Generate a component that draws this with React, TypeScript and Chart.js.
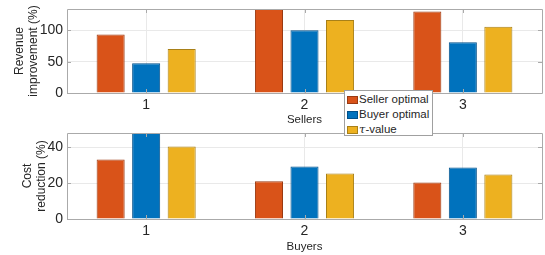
import React, { useEffect, useRef } from "react";
import { Chart, registerables } from "chart.js";

Chart.register(...registerables);

const sellerCategories = ["1", "2", "3"];
const buyerCategories = ["1", "2", "3"];
const seriesNames = ["Seller optimal", "Buyer optimal", "τ-value"];
const seriesColors = ["#D95319", "#0072BD", "#EDB120"];
const seriesEdges = ["#9a3a12", "#00508a", "#a88018"];

const revenueSellerOpt = [93.5, 136, 130];
const revenueBuyerOpt = [47.5, 100, 81];
const revenueTau = [70, 116.5, 105.5];

const costSellerOpt = [33.2, 21.1, 20.4];
const costBuyerOpt = [49, 29.3, 28.7];
const costTau = [40.4, 25.4, 24.8];

const revenueMax = 134;
const costMax = 48;
const revenueStep = 50;
const costStep = 20;

const FONT = "'Liberation Sans', Arial, Helvetica, sans-serif";
const GRID = "#e9e9e9";
const AXIS = "#aaaaaa";

const boxPlugin = {
  id: "matlabBox",
  afterDraw(chart: any) {
    const { ctx, chartArea: a, scales } = chart;
    ctx.save();
    ctx.strokeStyle = AXIS;
    ctx.lineWidth = 1;
    ctx.beginPath();
    ctx.rect(Math.round(a.left) + 0.5, Math.round(a.top) + 0.5, Math.round(a.right - a.left), Math.round(a.bottom - a.top));
    ctx.stroke();
    const tl = 4;
    const y = scales.y;
    const x = scales.x;
    ctx.beginPath();
    y.ticks.forEach((t: any, i: number) => {
      const py = Math.round(y.getPixelForTick(i)) + 0.5;
      ctx.moveTo(a.left, py);
      ctx.lineTo(a.left + tl, py);
      ctx.moveTo(a.right, py);
      ctx.lineTo(a.right - tl, py);
    });
    x.ticks.forEach((t: any, i: number) => {
      const px = Math.round(x.getPixelForTick(i)) + 0.5;
      ctx.moveTo(px, a.bottom);
      ctx.lineTo(px, a.bottom - tl);
      ctx.moveTo(px, a.top);
      ctx.lineTo(px, a.top + tl);
    });
    ctx.stroke();
    ctx.restore();
  },
};

function makeConfig(
  labels: string[],
  data: number[][],
  max: number,
  step: number,
  yTitle: string[],
  yTitlePad: number,
  xTitle: string,
  xTitlePad: number,
  xHeight: number,
  padTop: number
): any {
  return {
    type: "bar",
    data: {
      labels,
      datasets: data.map((d, i) => ({
        label: seriesNames[i],
        data: d,
        backgroundColor: seriesColors[i],
        borderColor: seriesEdges[i],
        borderWidth: 1,
        categoryPercentage: 0.673,
        barPercentage: 0.79,
      })),
    },
    options: {
      responsive: false,
      animation: false,
      devicePixelRatio: 1,
      layout: { padding: { top: padTop, right: 3, left: 0, bottom: 0 } },
      plugins: { legend: { display: false }, tooltip: { enabled: false } },
      scales: {
        x: {
          grid: { color: GRID, offset: false, drawTicks: false },
          border: { display: false },
          ticks: { color: "#262626", font: { family: FONT, size: 14 }, padding: 4 },
          title: {
            display: true,
            text: xTitle,
            color: "#262626",
            font: { family: FONT, size: 11.5 },
            padding: { top: 0, bottom: xTitlePad },
          },
          afterFit: (s: any) => {
            s.height = xHeight;
            s.paddingLeft = 0;
            s.paddingRight = 0;
          },
        },
        y: {
          min: 0,
          max,
          grid: { color: GRID, drawTicks: false },
          border: { display: false },
          ticks: {
            stepSize: step,
            includeBounds: false,
            color: "#262626",
            font: { family: FONT, size: 14 },
            padding: 4,
          },
          title: {
            display: true,
            text: yTitle,
            color: "#262626",
            font: { family: FONT, size: 12 },
            padding: { top: yTitlePad, bottom: 0 },
          },
          afterFit: (s: any) => {
            s.width = 67;
            s.paddingTop = 0;
            s.paddingBottom = 0;
          },
        },
      },
    },
    plugins: [boxPlugin],
  };
}

export default function App() {
  const topRef = useRef<HTMLCanvasElement>(null);
  const botRef = useRef<HTMLCanvasElement>(null);

  useEffect(() => {
    const c1 = new Chart(
      topRef.current as HTMLCanvasElement,
      makeConfig(
        sellerCategories,
        [revenueSellerOpt, revenueBuyerOpt, revenueTau],
        revenueMax,
        revenueStep,
        ["Revenue", "improvement (%)"],
        12,
        "Sellers",
        3,
        37,
        9
      )
    );
    const c2 = new Chart(
      botRef.current as HTMLCanvasElement,
      makeConfig(
        buyerCategories,
        [costSellerOpt, costBuyerOpt, costTau],
        costMax,
        costStep,
        ["Cost", "reduction (%)"],
        20,
        "Buyers",
        1,
        36,
        3
      )
    );
    return () => {
      c1.destroy();
      c2.destroy();
    };
  }, []);

  const row = (i: number) => (
    <div key={i} style={{ display: "flex", alignItems: "center", height: 15 }}>
      <span
        style={{
          display: "inline-block",
          width: 9,
          height: 6,
          background: seriesColors[i],
          border: `1px solid ${seriesEdges[i]}`,
          marginRight: 1,
        }}
      />
      <span>
        {i === 2 ? (
          <>
            <i style={{ fontFamily: "'DejaVu Serif', serif" }}>τ</i>-value
          </>
        ) : (
          seriesNames[i]
        )}
      </span>
    </div>
  );

  return (
    <div style={{ position: "absolute", left: 0, top: 0, width: 545, height: 255, background: "#fff" }}>
      <canvas ref={topRef} width={545} height={130} style={{ position: "absolute", left: 0, top: 0 }} />
      <canvas ref={botRef} width={545} height={125} style={{ position: "absolute", left: 0, top: 130 }} />
      <div
        style={{
          position: "absolute",
          left: 344,
          top: 90,
          width: 89,
          height: 46,
          background: "#fff",
          border: "1px solid #a0a0a0",
          fontFamily: FONT,
          fontSize: 11.5,
          color: "#262626",
          paddingLeft: 2,
          paddingTop: 1,
          boxSizing: "border-box",
          lineHeight: "15px",
          whiteSpace: "nowrap",
        }}
      >
        {[0, 1, 2].map(row)}
      </div>
    </div>
  );
}
